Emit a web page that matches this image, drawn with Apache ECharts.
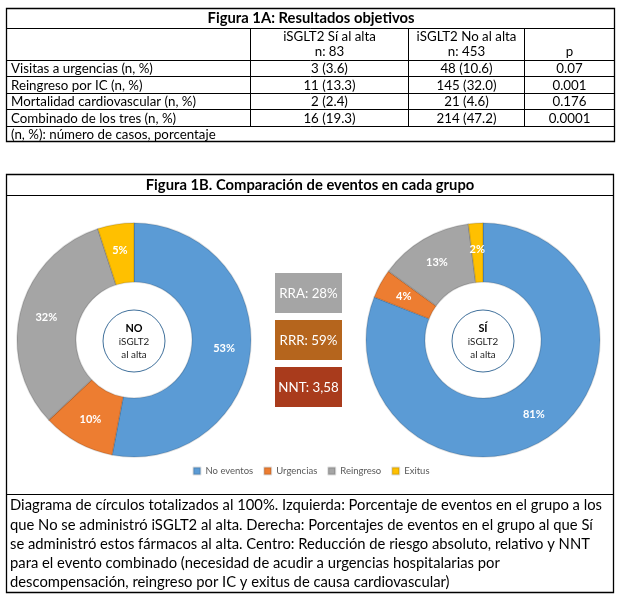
<!DOCTYPE html>
<html><head><meta charset="utf-8">
<script src="https://cdn.jsdelivr.net/npm/echarts@6/dist/echarts.min.js"></script>
<style>html,body{margin:0;padding:0;background:#fff}#c{width:622px;height:600px}</style>
</head><body><div id="c"></div>
<script>
// ---- data ----
const tableTitle = 'Figura 1A: Resultados objetivos';
const headerTop = ['', 'iSGLT2 Sí al alta', 'iSGLT2 No al alta', ''];
const headerBottom = ['', 'n: 83', 'n: 453', 'p'];
const rowLabels = ['Visitas a urgencias (n, %)', 'Reingreso por IC (n, %)', 'Mortalidad cardiovascular (n, %)', 'Combinado de los tres (n, %)'];
const siAlta = ['3 (3.6)', '11 (13.3)', '2 (2.4)', '16 (19.3)'];
const noAlta = ['48 (10.6)', '145 (32.0)', '21 (4.6)', '214 (47.2)'];
const pValues = ['0.07', '0.001', '0.176', '0.0001'];
const tableNote = '(n, %): número de casos, porcentaje';

const panelTitle = 'Figura 1B. Comparación de eventos en cada grupo';
const categories = ['No eventos', 'Urgencias', 'Reingreso', 'Exitus'];
const noGroupPct = [53, 10, 32, 5];
const siGroupPct = [81, 4, 13, 2];
const noCenterText = ['NO', 'iSGLT2', 'al alta'];
const siCenterText = ['SÍ', 'iSGLT2', 'al alta'];
const metricLabels = ['RRA: 28%', 'RRR: 59%', 'NNT: 3,58'];
const captionLines = [
  'Diagrama de círculos totalizados al 100%. Izquierda: Porcentaje de eventos en el grupo a los',
  'que No se administró iSGLT2 al alta. Derecha: Porcentajes de eventos en el grupo al que Sí',
  'se administró estos fármacos al alta. Centro: Reducción de riesgo absoluto, relativo y NNT',
  'para el evento combinado (necesidad de acudir a urgencias hospitalarias por',
  'descompensación, reingreso por IC y exitus de causa cardiovascular)'
];

// ---- styling helpers ----
const FF = 'Lato';
const mctx = document.createElement('canvas').getContext('2d');
function mw(t, f){ mctx.font = f; return mctx.measureText(t).width; }
const SX = 592 / mw(captionLines[0], '15px ' + FF); // narrow like Calibri

function txt(t, x, y, size, o){
  o = o || {};
  return {
    type: 'text', x: x, y: y, scaleX: SX, silent: true, z: 10,
    style: {
      text: t, x: 0, y: 0,
      font: (o.bold ? 'bold ' : '') + size + 'px ' + FF,
      fill: o.color || '#000',
      align: o.align || 'left', verticalAlign: 'middle',
      textAlign: o.align || 'left', textVerticalAlign: 'middle'
    }
  };
}
function ln(x1, y1, x2, y2, w){
  return { type: 'line', silent: true, z: 5, shape: {x1, y1, x2, y2}, style: {stroke: '#000', lineWidth: w || 1} };
}
function box(x, y, wd, ht, fill, stroke, lw){
  return { type: 'rect', silent: true, z: 4, shape: {x, y, width: wd, height: ht}, style: {fill: fill || 'none', stroke: stroke || null, lineWidth: lw || 0} };
}

const g = [];
// ---- Table 1A ----
const TL = 6.5, TR = 614.5;
const colX = [TL, 250.5, 408.5, 524.5, TR];
const rowY = [60.5, 76.5, 93.5, 109.5, 126.5];
g.push(box(TL, 8.5, TR - TL, 133, '#fff', '#000', 1.3));
g.push(ln(TL, 28.5, TR, 28.5));
rowY.forEach(y => g.push(ln(TL, y, TR, y)));
for (let i = 1; i < 4; i++) g.push(ln(colX[i], 28.5, colX[i], 126.5));
g.push(txt(tableTitle, 311, 18.5, 15, {bold: true, align: 'center'}));
for (let i = 1; i < 4; i++){
  const cx = (colX[i] + colX[i + 1]) / 2;
  if (headerTop[i]) g.push(txt(headerTop[i], cx, 37, 13.5, {align: 'center'}));
  if (headerBottom[i]) g.push(txt(headerBottom[i], cx, 52, 13.5, {align: 'center'}));
}
rowLabels.forEach((r, k) => {
  const cy = (rowY[k] + rowY[k + 1]) / 2 + 0.5;
  g.push(txt(r, 11, cy, 13.5));
  g.push(txt(siAlta[k], (colX[1] + colX[2]) / 2, cy, 13.5, {align: 'center'}));
  g.push(txt(noAlta[k], (colX[2] + colX[3]) / 2, cy, 13.5, {align: 'center'}));
  g.push(txt(pValues[k], (colX[3] + colX[4]) / 2, cy, 13.5, {align: 'center'}));
});
g.push(txt(tableNote, 11, 134.5, 13.5));

// ---- Panel 1B frame ----
g.push(box(6.5, 174.5, 607, 418, null, '#000', 1.3));
g.push(ln(6.5, 195.5, 613.5, 195.5));
g.push(ln(6.5, 494.5, 613.5, 494.5));
g.push(txt(panelTitle, 310, 185, 15, {bold: true, align: 'center'}));
captionLines.forEach((l, k) => g.push(txt(l, 10, 505.5 + k * 19.2, 15)));

// metric boxes
const metricColors = ['#A5A5A5', '#B5651D', '#A93B1C'];
metricLabels.forEach((m, k) => {
  const y = 273 + k * 47;
  g.push(box(275, y, 67, 40, metricColors[k]));
  g.push(txt(m, 308.5, y + 20.5, 13.5, {align: 'center', color: '#fff'}));
});

// donut centre circles
function centre(cx, cy, lines){
  g.push({ type: 'circle', silent: true, z: 6, shape: {cx, cy, r: 31}, style: {fill: '#fff', stroke: '#41719C', lineWidth: 1} });
  g.push(txt(lines[0], cx, cy - 13, 11, {bold: true, align: 'center'}));
  g.push(txt(lines[1], cx, cy + 1, 10, {align: 'center', color: '#222'}));
  g.push(txt(lines[2], cx, cy + 14, 10, {align: 'center', color: '#222'}));
}
centre(134, 341, noCenterText);
centre(483, 341, siCenterText);

function pieSeries(name, cx, values){
  return {
    type: 'pie', name: name, center: [cx, 340], radius: [58, 117],
    startAngle: 90, clockwise: true, avoidLabelOverlap: false, silent: true,
    itemStyle: {borderColor: 'rgba(0,0,0,0.13)', borderWidth: 1.5},
    label: {show: true, position: 'inside', formatter: '{c}%', color: '#fff', fontWeight: 'bold', fontSize: 11, fontFamily: FF},
    labelLine: {show: false},
    emphasis: {disabled: true},
    data: categories.map((c, i) => ({name: c, value: values[i]}))
  };
}

const chart = echarts.init(document.getElementById('c'), null, {renderer: 'canvas'});
chart.setOption({
  animation: false,
  backgroundColor: '#fff',
  color: ['#5B9BD5', '#ED7D31', '#A5A5A5', '#FFC000'],
  legend: {
    data: categories, left: 'center', top: 461, icon: 'rect', itemWidth: 7, itemHeight: 7, itemGap: 10,
    selectedMode: false, textStyle: {fontSize: 9.5, color: '#595959', fontFamily: FF}
  },
  series: [pieSeries('NO', 134, noGroupPct), pieSeries('SÍ', 483, siGroupPct)],
  graphic: {elements: g}
});
</script></body></html>
